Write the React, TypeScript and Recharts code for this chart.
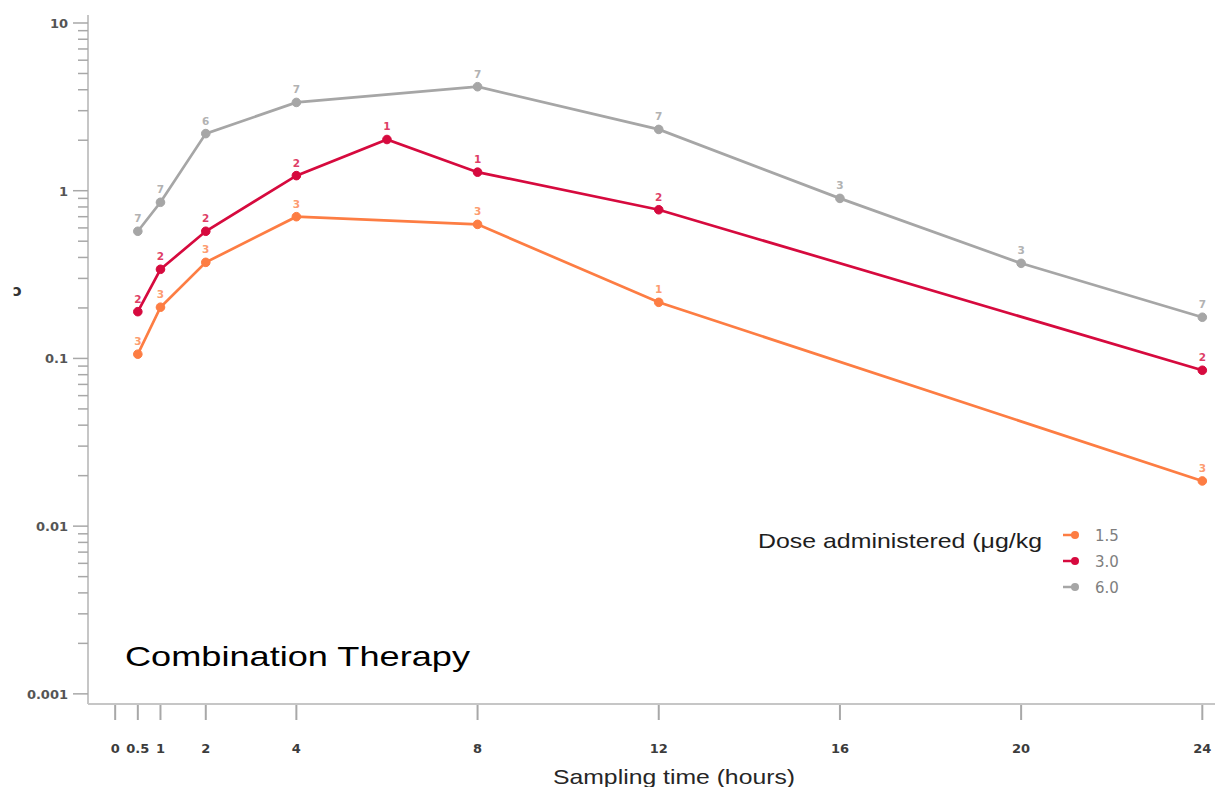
import { LineChart, Line, XAxis, YAxis, Legend, LabelList } from "recharts";

// Dose groups (µg/kg): sampling times, mean concentration, number of subjects
const lowDoseHours = [0.5, 1, 2, 4, 8, 12, 24];
const lowDoseConc = [0.106, 0.202, 0.374, 0.7, 0.63, 0.216, 0.0186];
const lowDoseN = [3, 3, 3, 3, 3, 1, 3];

const midDoseHours = [0.5, 1, 2, 4, 6, 8, 12, 24];
const midDoseConc = [0.19, 0.34, 0.573, 1.23, 2.02, 1.29, 0.77, 0.085];
const midDoseN = [2, 2, 2, 2, 1, 1, 2, 2];

const highDoseHours = [0.5, 1, 2, 4, 8, 12, 16, 20, 24];
const highDoseConc = [0.573, 0.853, 2.19, 3.36, 4.17, 2.32, 0.9, 0.369, 0.176];
const highDoseN = [7, 7, 6, 7, 7, 7, 3, 3, 7];

const timeTicks = [0, 0.5, 1, 2, 4, 8, 12, 16, 20, 24];
const decades = [0.001, 0.01, 0.1, 1, 10];
const minorSteps = [2, 3, 4, 5, 6, 7, 8, 9];

const concTicks: number[] = [];
decades.forEach((d, i) => {
  concTicks.push(d);
  if (i < decades.length - 1) minorSteps.forEach((m) => concTicks.push(+(d * m).toPrecision(3)));
});

const toRows = (hours: number[], conc: number[], n: number[]) =>
  hours.map((t, i) => ({ t, conc: conc[i], n: n[i] }));

const series = [
  { name: "1.5", color: "#fd7d43", labelColor: "#fd9c70", rows: toRows(lowDoseHours, lowDoseConc, lowDoseN) },
  { name: "3.0", color: "#d60a3e", labelColor: "#de3e66", rows: toRows(midDoseHours, midDoseConc, midDoseN) },
  { name: "6.0", color: "#a6a6a6", labelColor: "#b2b2b2", rows: toRows(highDoseHours, highDoseConc, highDoseN) },
];

const TICK_FONT = "DejaVu Sans, sans-serif";
const AXIS_GREY = "#c6c6c6";

function TimeTick({ x, y, payload }: any) {
  return (
    <g>
      <line x1={x} x2={x} y1={y + 1} y2={y + 16} stroke="#a8a8a8" strokeWidth={2} />
      <text x={x} y={y + 49} textAnchor="middle" fontFamily={TICK_FONT} fontWeight="bold" fontSize={13} fill="#3c3c3c">
        {payload.value}
      </text>
    </g>
  );
}

function ConcTick({ x, y, payload }: any) {
  const major = decades.includes(payload.value);
  return (
    <g>
      <line x1={x - (major ? 15 : 10)} x2={x} y1={y} y2={y} stroke="#a8a8a8" strokeWidth={1.5} />
      {major && (
        <text x={x - 20} y={y + 5} textAnchor="end" fontFamily={TICK_FONT} fontWeight="bold" fontSize={13} fill="#555">
          {payload.value}
        </text>
      )}
    </g>
  );
}

function DoseLegend({ payload }: any) {
  return (
    <svg width={470} height={90}>
      <text x={13} y={33} fontFamily="Liberation Sans, Arial" fontSize={21} fill="#1e1e1e" textLength={284} lengthAdjust="spacingAndGlyphs">
        Dose administered (μg/kg
      </text>
      {(payload || []).map((p: any, i: number) => {
        const cy = 20 + i * 26;
        return (
          <g key={p.value}>
            <line x1={318} x2={332} y1={cy} y2={cy} stroke={p.color} strokeWidth={2.5} />
            <circle cx={330} cy={cy} r={4} fill={p.color} />
            <text x={350} y={cy + 5.5} fontFamily={TICK_FONT} fontSize={15} fill="#7e7e7e">
              {p.value}
            </text>
          </g>
        );
      })}
    </svg>
  );
}

export default function App() {
  return (
    <div style={{ position: "absolute", left: 0, top: 0, background: "#fff" }}>
      <LineChart width={1215} height={787} margin={{ top: 15, right: 0, bottom: 0, left: 0 }}>
        <XAxis
          xAxisId="frame"
          orientation="top"
          type="number"
          domain={[0, 1]}
          height={0}
          tick={false}
          tickLine={false}
          axisLine={{ stroke: AXIS_GREY, strokeWidth: 2 }}
        />
        <XAxis
          dataKey="t"
          type="number"
          domain={[-0.6, 24.28]}
          allowDataOverflow
          ticks={timeTicks}
          interval={0}
          height={83}
          tickSize={0}
          tickMargin={0}
          tickLine={false}
          tick={<TimeTick />}
          axisLine={{ stroke: AXIS_GREY, strokeWidth: 2 }}
          label={{
            content: () => (
              <text x={553} y={784} fontFamily="Liberation Sans, Arial" fontSize={21} fill="#262626" textLength={242} lengthAdjust="spacingAndGlyphs">
                Sampling time (hours)
              </text>
            ),
          }}
        />
        <YAxis
          type="number"
          scale="log"
          domain={[0.00087, 11.16]}
          allowDataOverflow
          ticks={concTicks}
          interval={0}
          width={88}
          tickSize={0}
          tickMargin={0}
          tickLine={false}
          tick={<ConcTick />}
          axisLine={{ stroke: AXIS_GREY, strokeWidth: 2 }}
          label={{
            content: () => (
              <text x={13} y={296} fontFamily={TICK_FONT} fontWeight="bold" fontSize={15} fill="#333">
                ɔ
              </text>
            ),
          }}
        />
        {series.map((s) => (
          <Line
            key={s.name}
            name={s.name}
            data={s.rows}
            dataKey="conc"
            stroke={s.color}
            strokeWidth={2.7}
            dot={{ r: 4.3, fill: s.color, stroke: s.color, strokeWidth: 1 }}
            activeDot={false}
            isAnimationActive={false}
          >
            <LabelList dataKey="n" position="top" offset={9} fontSize={10.5} fontWeight="bold" fontFamily={TICK_FONT} fill={s.labelColor} />
          </Line>
        ))}
        <text x={125} y={666} fontFamily="Liberation Sans, Arial" fontSize={28} fill="#000" textLength={345} lengthAdjust="spacingAndGlyphs">
          Combination Therapy
        </text>
        <Legend
          layout="vertical"
          align="center"
          verticalAlign="middle"
          content={<DoseLegend />}
          wrapperStyle={{ left: 745, top: 515, width: 470 }}
        />
      </LineChart>
    </div>
  );
}
